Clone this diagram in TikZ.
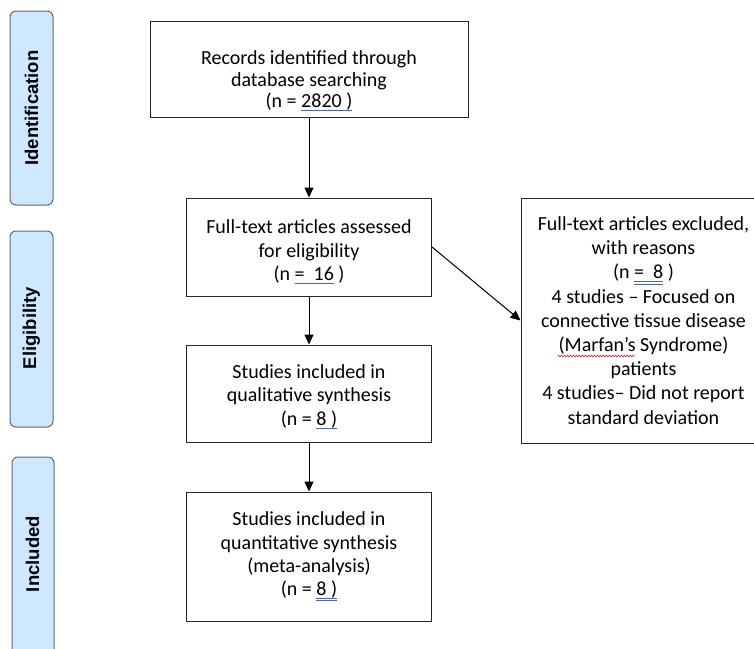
\documentclass[tikz,border=0pt]{standalone}
\usepackage{fontspec}
\setmainfont{Carlito}
\newfontfamily\sidefont{Liberation Sans}
\usetikzlibrary{arrows.meta, calc, decorations.pathmorphing}
\definecolor{barblue}{RGB}{206,233,255}
\definecolor{bargray}{RGB}{95,105,115}
\definecolor{ulblue}{RGB}{60,100,205}
\definecolor{wavered}{RGB}{220,40,40}
% underlines as the picture shows them
\newcommand\bluebar[1]{\setbox0\hbox{#1}\rlap{\textcolor{ulblue}{\rule[-3.5pt]{\wd0}{0.8pt}}}\box0\relax}
\newcommand\bluedouble[1]{\setbox0\hbox{#1}\rlap{\textcolor{ulblue}{\rule[-3pt]{\wd0}{0.7pt}}}\rlap{\textcolor{ulblue}{\rule[-5.5pt]{\wd0}{0.7pt}}}\box0\relax}
% taller first line, drops the text a little
\newcommand\dropline[1]{\rule{0pt}{\dimexpr\fontcharht\font`\l+#1\relax}}

\begin{document}
\begin{tikzpicture}[x=1pt, y=-1pt,
	stagebar/.style={draw=bargray, fill=barblue, line width=1pt, rounded corners=6pt},
	stagelabel/.style={rotate=90, font=\sidefont\bfseries\fontsize{18.5}{20}\selectfont},
	flowbox/.style={draw=black!85, line width=1pt, align=center, inner sep=0pt, font=\fontsize{20}{23.3}\selectfont},
	flowarrow/.style={-{Triangle[length=10pt, width=9pt]}, line width=1pt}]
	\useasboundingbox (0,0) rectangle (754,648);
	% stages
	\draw[stagebar] (10,11) rectangle (53,205);
	\draw[stagebar] (10,231) rectangle (53,427);
	\draw[stagebar] (12,457) rectangle (54,680);
	\node[stagelabel] (identlabel) at (31.5,108) {Identification};
	\node[stagelabel] (eliglabel) at (31.5,328) {Eligibility};
	\node[stagelabel] (incllabel) at (32.5,554) {Included};
	% boxes
	\node[flowbox, minimum width=318pt, minimum height=96pt] (records) at (309,69) {};
	\node[align=center, font=\fontsize{20}{21.5}\selectfont] (recordstext) at ($(records.center)+(0,12)$) {Records identified through\\database searching\\(n = \bluebar{2820 )}};
	\node[flowbox, minimum width=245pt, minimum height=98pt] (fulltext) at (309,247) {\dropline{10pt}Full-text articles assessed\\for eligibility\\(n \bluebar{=\ \ 16} )};
	\node[flowbox, minimum width=245pt, minimum height=245pt, font=\fontsize{20}{24.2}\selectfont] (excluded) at (643.5,320.5) {Full-text articles excluded,\\with reasons\\(n \bluedouble{=\ \ 8} )\\4 studies -- Focused on\\connective tissue disease\\(Marfan’s Syndrome)\\patients\\4 studies-- Did not report\\standard deviation};
	\node[flowbox, minimum width=245pt, minimum height=97pt] (qualitative) at (309,393.5) {\dropline{6pt}Studies included in\\qualitative synthesis\\(n = \bluebar{8 )}};
	\node[flowbox, minimum width=245pt, minimum height=129pt] (quantitative) at (309,556.5) {Studies included in\\quantitative synthesis\\(meta-analysis)\\(n = \bluedouble{8 )}};
	% spelling wave under Marfan's
	\coordinate (wavestart) at ($(excluded.west)+(37,35.5)$);
	\draw[wavered, line width=0.6pt, decorate, decoration={snake, amplitude=1pt, segment length=3pt}] (wavestart) -- ++(77,0);
	% arrows
	\draw[flowarrow] (records) -- (fulltext);
	\draw[flowarrow] (fulltext) -- (qualitative);
	\draw[flowarrow] (qualitative) -- (quantitative);
	\draw[flowarrow] (fulltext.east) -- (excluded.west);
\end{tikzpicture}
\end{document}
